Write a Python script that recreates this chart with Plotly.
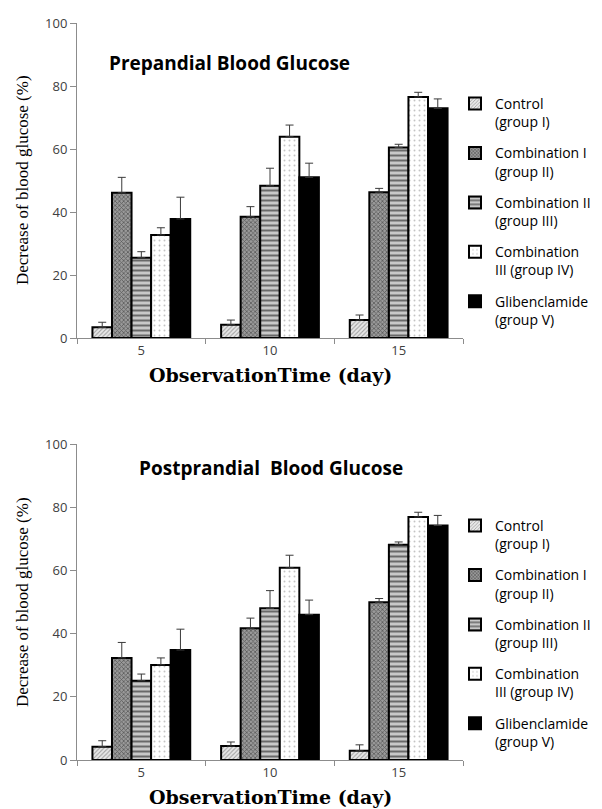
import plotly.graph_objects as go

W, H = 602, 809

days = ["5", "10", "15"]
group_names = [
    "Control<br>(group I)",
    "Combination I<br>(group II)",
    "Combination II<br>(group III)",
    "Combination<br>III (group IV)",
    "Glibenclamide<br>(group V)",
]

# Prepandial blood glucose decrease (%) and upper error
pre_control = [3.4, 4.2, 5.7]
pre_comb1 = [46.1, 38.5, 46.3]
pre_comb2 = [25.5, 48.3, 60.5]
pre_comb3 = [32.7, 63.9, 76.5]
pre_glib = [37.8, 51.0, 72.9]

pre_control_err = [1.6, 1.5, 1.6]
pre_comb1_err = [4.9, 3.2, 1.2]
pre_comb2_err = [1.9, 5.6, 1.0]
pre_comb3_err = [2.3, 3.7, 1.5]
pre_glib_err = [6.9, 4.5, 3.0]

# Postprandial blood glucose decrease (%) and upper error
post_control = [4.2, 4.4, 2.9]
post_comb1 = [32.3, 41.7, 49.9]
post_comb2 = [25.1, 48.0, 68.1]
post_comb3 = [30.1, 60.8, 76.9]
post_glib = [34.8, 46.0, 74.2]

post_control_err = [1.9, 1.3, 1.9]
post_comb1_err = [4.9, 3.2, 1.2]
post_comb2_err = [2.1, 5.6, 0.9]
post_comb3_err = [2.2, 4.0, 1.5]
post_glib_err = [6.6, 4.6, 3.2]

patterns = [
    dict(shape="/", fgcolor="#5a5a5a", bgcolor="#e8e8e8", size=3, solidity=0.35),
    dict(shape="x", fgcolor="#1a1a1a", bgcolor="#9a9a9a", size=3, solidity=0.45),
    dict(shape="-", fgcolor="#0a0a0a", bgcolor="#c8c8c8", size=5, solidity=0.4),
    dict(shape=".", fgcolor="#8a8a8a", bgcolor="#ffffff", size=5, solidity=0.12),
    None,
]
fills = ["#e8e8e8", "#9a9a9a", "#c8c8c8", "#ffffff", "#000000"]

pre_vals = [pre_control, pre_comb1, pre_comb2, pre_comb3, pre_glib]
pre_errs = [pre_control_err, pre_comb1_err, pre_comb2_err, pre_comb3_err, pre_glib_err]
post_vals = [post_control, post_comb1, post_comb2, post_comb3, post_glib]
post_errs = [post_control_err, post_comb1_err, post_comb2_err, post_comb3_err, post_glib_err]

fig = go.Figure()


def add_set(vals, errs, xa, ya, legend_id, prefix):
    for i in range(5):
        marker = dict(color=fills[i], line=dict(color="#000000", width=2))
        if patterns[i] is not None:
            marker["pattern"] = patterns[i]
        fig.add_trace(go.Bar(
            x=days, y=vals[i], name=group_names[i],
            marker=marker,
            error_y=dict(type="data", symmetric=False, array=errs[i],
                         arrayminus=[0] * len(errs[i]),
                         color="#3a3a3a", thickness=1, width=4),
            xaxis=xa, yaxis=ya, legend=legend_id,
            legendgroup=prefix + str(i),
        ))


add_set(pre_vals, pre_errs, "x", "y", "legend", "pre")
add_set(post_vals, post_errs, "x2", "y2", "legend2", "post")

L, R = 77, 463
top_dom = [1 - 338 / H, 1 - 23 / H]
bot_dom = [1 - 760 / H, 1 - 444 / H]

tickfont = dict(family="Open Sans", size=13, color="#404040")
axis_common_y = dict(range=[0, 100], dtick=20, showgrid=False, zeroline=False,
                     showline=True, linecolor="#8c8c8c", linewidth=1,
                     ticks="outside", ticklen=6, tickcolor="#8c8c8c",
                     tickfont=tickfont, automargin=False)
axis_common_x = dict(type="category", range=[-0.5, 2.5], showgrid=False,
                     showline=True, linecolor="#8c8c8c", linewidth=1,
                     ticks="outside", tickson="boundaries", ticklen=5,
                     tickcolor="#8c8c8c", tickfont=tickfont, automargin=False)

legend_common = dict(font=dict(family="Open Sans", size=14, color="#000000"),
                     bgcolor="rgba(0,0,0,0)", borderwidth=0, valign="top",
                     tracegroupgap=10, xanchor="left", yanchor="top",
                     itemwidth=30)

fig.update_layout(
    width=W, height=H,
    paper_bgcolor="white", plot_bgcolor="white",
    margin=dict(l=L, r=W - R, t=0, b=0),
    barmode="group", bargap=0.24, bargroupgap=0,
    xaxis=dict(domain=[0, 1], anchor="y", **axis_common_x),
    yaxis=dict(domain=top_dom, anchor="x", **axis_common_y),
    xaxis2=dict(domain=[0, 1], anchor="y2", **axis_common_x),
    yaxis2=dict(domain=bot_dom, anchor="x2", **axis_common_y),
    legend=dict(x=(455 - L) / (R - L), y=1 - 88 / H, xref="paper",
                yref="paper", **legend_common),
    legend2=dict(x=(455 - L) / (R - L), y=1 - 510 / H, xref="paper", yref="paper",
                 **legend_common),
    showlegend=True,
)

annotations = []
# chart titles
annotations.append(dict(text="<b>Prepandial Blood Glucose</b>", x=(107 - L) / (R - L), y=1 - 63 / H,
                        xref="paper", yref="paper", xanchor="left", yanchor="middle",
                        showarrow=False, font=dict(family="Open Sans", size=19, color="#000")))
annotations.append(dict(text="<b>Postprandial\u00a0 Blood Glucose</b>", x=(137 - L) / (R - L), y=1 - 468 / H,
                        xref="paper", yref="paper", xanchor="left", yanchor="middle",
                        showarrow=False, font=dict(family="Open Sans", size=19, color="#000")))
# x-axis titles
for yc in (375, 797):
    annotations.append(dict(text="<b>ObservationTime (day)</b>", x=0.5, y=1 - yc / H,
                            xref="paper", yref="paper", xanchor="center", yanchor="middle",
                            showarrow=False,
                            font=dict(family="DejaVu Serif", size=19, color="#000")))
# y-axis titles
for yc in (180, 602):
    annotations.append(dict(text="Decrease of blood glucose (%)", x=(22 - L) / (R - L), y=1 - yc / H,
                            xref="paper", yref="paper", xanchor="center", yanchor="middle",
                            textangle=-90, showarrow=False,
                            font=dict(family="Liberation Serif", size=17, color="#000")))
fig.update_layout(annotations=annotations)

fig.write_html("out.html", config={"displayModeBar": False},
               post_script="document.body.style.margin='0';document.body.style.padding='0';")
